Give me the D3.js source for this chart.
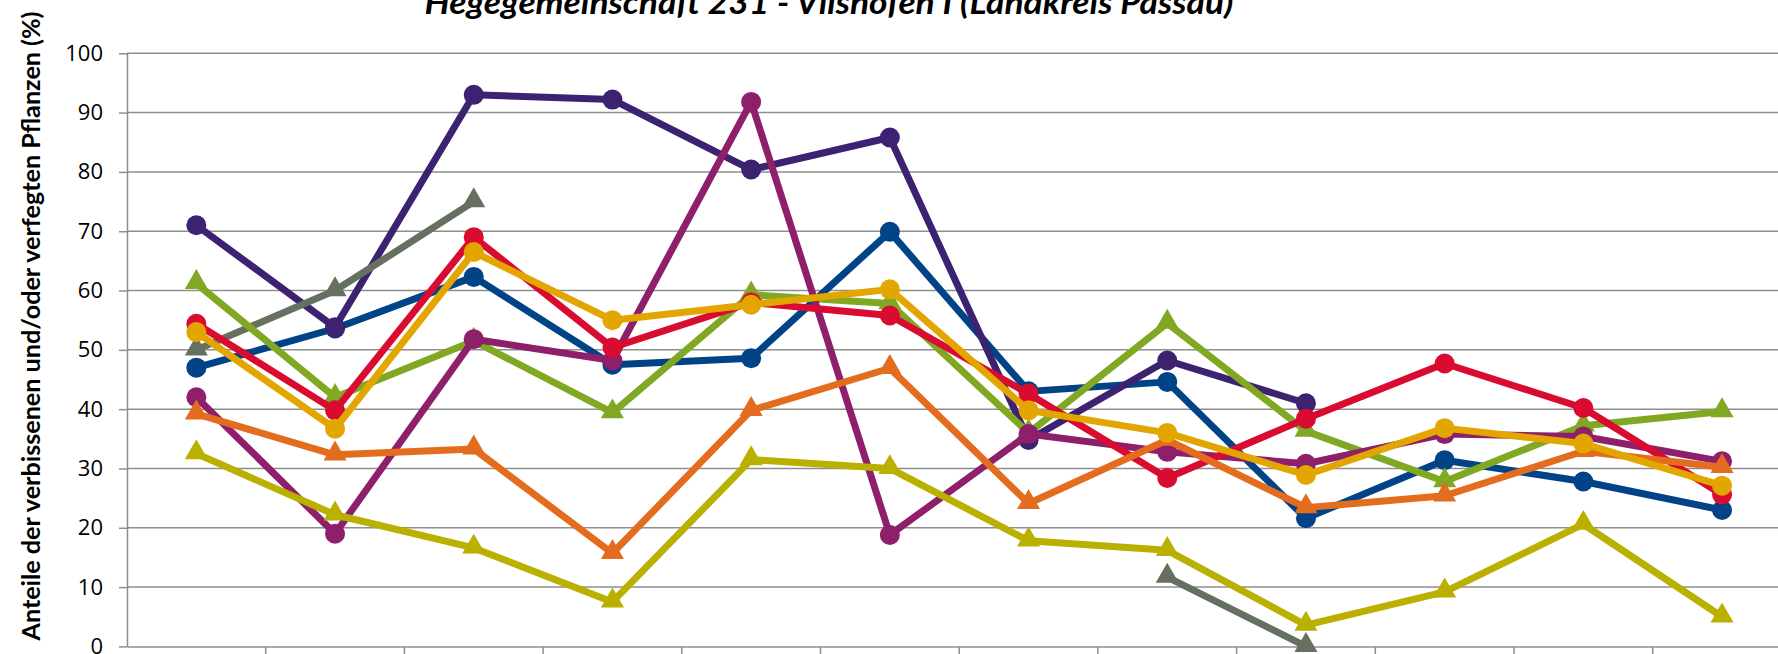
<!DOCTYPE html>
<html>
<head>
<meta charset="utf-8">
<script src="https://cdn.jsdelivr.net/npm/d3@7"></script>
<style>
  html, body { margin: 0; padding: 0; background: #fff; overflow: hidden; }
  svg { display: block; }
</style>
</head>
<body>
<svg id="chart"></svg>
<script>
// survey years (their labels lie below the visible crop, so they are not drawn)
const years = ['1991', '1994', '1997', '2000', '2003', '2006', '2009', '2012', '2015', '2018', '2021', '2024'];
const yTicks = [0, 10, 20, 30, 40, 50, 60, 70, 80, 90, 100];
const titleText = 'Hegegemeinschaft 231 - Vilshofen I (Landkreis Passau)';
const yLabelText = 'Anteile der verbissenen und/oder verfegten Pflanzen (%)';

// series values, one per year (null = no value)
const darkPurple = [71, 53.8, 93, 92.2, 80.4, 85.8, 34.8, 48.2, 41, null, null, null];
const grey       = [50, 60, 75, null, null, null, null, 11.7, 0, null, null, null];
const blue       = [47, 53.6, 62.3, 47.5, 48.6, 69.9, 43, 44.6, 21.6, 31.4, 27.8, 23];
const green      = [61.2, 42, 51.5, 39.4, 59.3, 57.8, 36, 54.5, 36.3, 27.8, 37.2, 39.6];
const magenta    = [42, 19, 51.8, 48.2, 91.8, 18.8, 35.8, 32.8, 30.8, 35.8, 35.4, 31.2];
const red        = [54.4, 39.8, 69, 50.4, 58, 55.8, 42.6, 28.4, 38.4, 47.7, 40.2, 25.6];
const orange     = [39.2, 32.3, 33.3, 15.7, 39.8, 46.9, 24.1, 34.8, 23.4, 25.4, 32.9, 30.2];
const olive      = [32.5, 22.2, 16.6, 7.5, 31.5, 30, 17.8, 16.2, 3.6, 9.2, 20.6, 5];
const gold       = [53, 36.7, 66.5, 55, 57.6, 60.2, 39.8, 36, 28.9, 36.8, 34.2, 27.1];

const series = [
  {values: blue,       color: '#004386', shape: 'circle'},
  {values: darkPurple, color: '#3c2270', shape: 'circle'},
  {values: grey,       color: '#65705f', shape: 'triangle'},
  {values: green,      color: '#80a822', shape: 'triangle'},
  {values: magenta,    color: '#8e1f6a', shape: 'circle'},
  {values: red,        color: '#d90b30', shape: 'circle'},
  {values: orange,     color: '#e46c1f', shape: 'triangle'},
  {values: olive,      color: '#b9b000', shape: 'triangle'},
  {values: gold,       color: '#e3a600', shape: 'circle'},
];

const W = 1778, H = 654;
const plot = {left: 127, top: 53.3, bottom: 646.4, band: 138.7};

const svg = d3.select('#chart').attr('width', W).attr('height', H);

const x = d3.scaleBand().domain(years).range([plot.left, plot.left + plot.band * years.length]);
const y = d3.scaleLinear().domain([0, 100]).range([plot.bottom, plot.top]);

// horizontal gridlines
svg.append('g').selectAll('line').data(yTicks.slice(1)).enter().append('line')
  .attr('x1', plot.left).attr('x2', x.range()[1])
  .attr('y1', d => y(d)).attr('y2', d => y(d))
  .attr('stroke', '#8e8e8e').attr('stroke-width', 1.5);

// y axis
const yAxis = svg.append('g').attr('transform', `translate(${plot.left},0)`)
  .call(d3.axisLeft(y).tickValues(yTicks).tickSizeInner(8).tickSizeOuter(0).tickPadding(16));
yAxis.select('.domain').attr('stroke', '#8e8e8e').attr('stroke-width', 1.5);
yAxis.selectAll('.tick line').attr('stroke', '#8e8e8e').attr('stroke-width', 1.5);
yAxis.selectAll('.tick text').attr('font-family', '"Open Sans", sans-serif').attr('font-size', 22).attr('fill', '#000');

// x axis line plus category boundary ticks
const xAxis = svg.append('g').attr('transform', `translate(0,${plot.bottom})`)
  .call(d3.axisBottom(x).tickSizeOuter(0).tickSize(0).tickFormat(''));
xAxis.select('.domain').attr('stroke', '#8e8e8e').attr('stroke-width', 1.5);
svg.append('g').selectAll('line').data(years).enter().append('line')
  .attr('x1', d => x(d) + x.bandwidth()).attr('x2', d => x(d) + x.bandwidth())
  .attr('y1', plot.bottom).attr('y2', plot.bottom + 9)
  .attr('stroke', '#8e8e8e').attr('stroke-width', 1.5);

const cx = (d, i) => x(years[i]) + x.bandwidth() / 2;
const line = d3.line().defined(d => d != null).x(cx).y(d => y(d));
const tri = d3.symbol(d3.symbolTriangle, 230);

series.forEach(s => {
  const g = svg.append('g');
  g.append('path').attr('d', line(s.values))
    .attr('fill', 'none').attr('stroke', s.color).attr('stroke-width', 7)
    .attr('stroke-linejoin', 'round');
  const pts = s.values.map((v, i) => ({v, i})).filter(p => p.v != null);
  if (s.shape === 'circle') {
    g.selectAll('circle').data(pts).enter().append('circle')
      .attr('cx', p => cx(p.v, p.i)).attr('cy', p => y(p.v)).attr('r', 10)
      .attr('fill', s.color);
  } else {
    g.selectAll('path.m').data(pts).enter().append('path').attr('class', 'm')
      .attr('d', tri).attr('transform', p => `translate(${cx(p.v, p.i)},${y(p.v) - 1})`)
      .attr('fill', s.color);
  }
});

// title, cut at the top edge
svg.append('text').text(titleText)
  .attr('x', 829).attr('y', 14).attr('text-anchor', 'middle')
  .attr('font-family', 'Lato, sans-serif').attr('font-weight', 'bold').attr('font-style', 'italic')
  .attr('font-size', 33).attr('textLength', 809).attr('lengthAdjust', 'spacingAndGlyphs');

// y label
svg.append('text').text(yLabelText)
  .attr('transform', 'translate(40,326) rotate(-90)').attr('text-anchor', 'middle')
  .attr('font-family', 'Lato, sans-serif').attr('font-weight', 'bold')
  .attr('font-size', 25).attr('textLength', 629).attr('lengthAdjust', 'spacingAndGlyphs');
</script>
</body>
</html>
